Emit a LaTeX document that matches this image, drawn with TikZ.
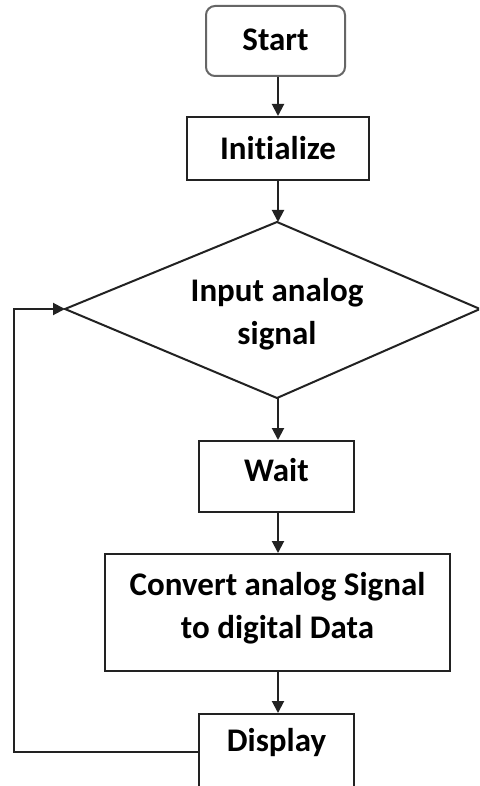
\documentclass[tikz,border=0pt]{standalone}
\usepackage{fontspec}
\setmainfont[Ligatures=NoCommon]{Carlito}
\usetikzlibrary{arrows.meta}
\definecolor{ln}{HTML}{222222}
\tikzset{
  lbl/.style={font=\fontsize{33}{43}\selectfont\bfseries, align=center, text=black, inner sep=0pt},
  boxnode/.style={draw=ln, line width=2pt, rectangle, inner sep=0pt},
  flow/.style={draw=ln, line width=2pt, -{Triangle[width=12pt,length=12pt]}},
  link/.style={draw=ln, line width=2pt}
}
\begin{document}
\begin{tikzpicture}[x=1pt,y=-1pt]
\useasboundingbox (0,0) rectangle (479,786);
\clip (0,0) rectangle (479,786);
\fill[white] (0,0) rectangle (479,786);
% Start
\node[boxnode, draw=gray!80!black, rounded corners=9pt, minimum width=139pt, minimum height=70pt] (start) at (275.5,41) {};
\node[lbl] (tstart) at (275.5,40) {Start};
% Initialize
\node[boxnode, minimum width=182pt, minimum height=63pt] (init) at (278,148.5) {};
\node[lbl] (tinit) at (278,148) {Initialize};
% Diamond
\coordinate (dtop) at (277,222);
\coordinate (dright) at (480,309);
\coordinate (dbot) at (277,398);
\coordinate (dleft) at (65,309);
\draw[link, line join=miter] (dtop) -- (dright) -- (dbot) -- (dleft) -- cycle;
\node[lbl] (tdia) at (277,314) {Input analog\\signal};
% Wait
\node[boxnode, minimum width=155pt, minimum height=71pt] (wait) at (276.5,476.5) {};
\node[lbl] (twait) at (276.5,470) {Wait};
% Convert
\node[boxnode, minimum width=345pt, minimum height=117pt] (conv) at (277.5,612.5) {};
\node[lbl] (tconv) at (277.5,608) {Convert analog Signal\\to digital Data};
% Display
\node[boxnode, minimum width=155pt, minimum height=86pt] (disp) at (276.5,757) {};
\node[lbl] (tdisp) at (276.5,743) {Display};
% Connectors
\draw[flow] (start.south -| 278,0) -- (init.north -| 278,0);
\draw[flow] (init.south -| 278,0) -- (dtop -| 278,0);
\draw[flow] (dbot -| 278,0) -- (wait.north -| 278,0);
\draw[flow] (wait.south -| 278,0) -- (conv.north -| 278,0);
\draw[flow] (conv.south -| 278,0) -- (disp.north -| 278,0);
\coordinate (lb) at (14,752);
\coordinate (lt) at (14,309);
\draw[flow] (disp.west |- lb) -- (lb) -- (lt) -- (dleft);
\end{tikzpicture}
\end{document}
